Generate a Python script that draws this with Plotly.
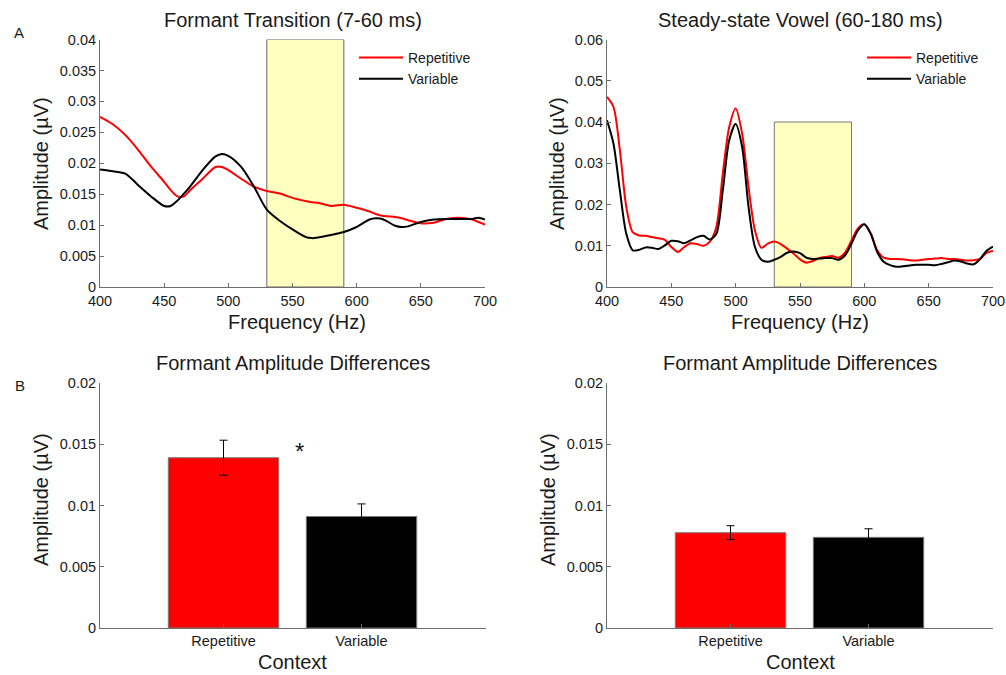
import plotly.graph_objects as go

# ---------------- data ----------------
freq_tr = [400, 410, 420, 430, 440, 450, 455, 460, 465, 470, 480, 490, 495, 500, 510, 520, 530,
           540, 550, 560, 565, 570, 580, 590, 600, 610, 615, 620, 630, 635, 640, 650, 660, 670,
           680, 690, 695, 700]
rep_tr = [0.0275, 0.0263, 0.0245, 0.0221, 0.0194, 0.0170, 0.0157, 0.0147, 0.0146, 0.0156, 0.0175,
          0.0194, 0.0194, 0.0189, 0.0175, 0.0162, 0.0155, 0.0151, 0.0144, 0.0139, 0.0137, 0.0136,
          0.0131, 0.0133, 0.0128, 0.0122, 0.0118, 0.0115, 0.0113, 0.0111, 0.0108, 0.0103, 0.0104,
          0.0110, 0.0112, 0.0109, 0.0105, 0.0101]
var_tr = [0.0190, 0.0187, 0.0183, 0.0164, 0.0146, 0.0131, 0.0131, 0.0139, 0.0150, 0.0162, 0.0189,
          0.0211, 0.0215, 0.0212, 0.0194, 0.0162, 0.0125, 0.0107, 0.0093, 0.0081, 0.0079, 0.0080,
          0.0084, 0.0089, 0.0097, 0.0109, 0.0111, 0.0110, 0.0099, 0.0097, 0.0098, 0.0105, 0.0109,
          0.0110, 0.0110, 0.0110, 0.0112, 0.0109]

freq_ss = [400, 405, 410, 415, 420, 425, 430, 435, 440, 445, 450, 455, 460, 465, 470, 475, 480,
           485, 490, 495, 500, 505, 510, 515, 520, 525, 530, 535, 540, 545, 550, 555, 560, 565,
           570, 575, 580, 585, 590, 595, 600, 605, 610, 615, 620, 625, 630, 635, 640, 645, 650,
           655, 660, 665, 670, 675, 680, 685, 690, 695, 700]
rep_ss = [0.0461, 0.0437, 0.0332, 0.0194, 0.0133, 0.0125, 0.0124, 0.0121, 0.0118, 0.0114, 0.0097,
          0.0085, 0.0097, 0.0106, 0.0104, 0.0100, 0.0110, 0.0146, 0.0275, 0.0388, 0.0433, 0.0372,
          0.0243, 0.0137, 0.0095, 0.0105, 0.0110, 0.0104, 0.0093, 0.0081, 0.0067, 0.0059, 0.0063,
          0.0070, 0.0073, 0.0075, 0.0071, 0.0083, 0.0113, 0.0142, 0.0152, 0.0129, 0.0089, 0.0071,
          0.0068, 0.0068, 0.0067, 0.0065, 0.0064, 0.0066, 0.0068, 0.0069, 0.0070, 0.0068, 0.0068,
          0.0066, 0.0064, 0.0065, 0.0068, 0.0083, 0.0087]
var_ss = [0.0404, 0.0348, 0.0234, 0.0129, 0.0089, 0.0090, 0.0096, 0.0095, 0.0092, 0.0101, 0.0112,
          0.0111, 0.0106, 0.0113, 0.0121, 0.0124, 0.0115, 0.0129, 0.0234, 0.0356, 0.0395, 0.0340,
          0.0194, 0.0097, 0.0066, 0.0061, 0.0066, 0.0073, 0.0083, 0.0086, 0.0082, 0.0071, 0.0068,
          0.0069, 0.0070, 0.0070, 0.0066, 0.0077, 0.0105, 0.0137, 0.0152, 0.0129, 0.0085, 0.0061,
          0.0053, 0.0049, 0.0050, 0.0052, 0.0054, 0.0054, 0.0054, 0.0053, 0.0056, 0.0060, 0.0064,
          0.0062, 0.0057, 0.0055, 0.0068, 0.0088, 0.0098]

window_hz = [530, 590]
window_top = [0.04, 0.04]

contexts = ["Repetitive", "Variable"]
diff_tr = [0.0139, 0.0091]
err_tr = [0.00143, 0.00103]
diff_ss = [0.00778, 0.00740]
err_ss = [0.00057, 0.00070]

freq_ticks = [400, 450, 500, 550, 600, 650, 700]
y_ticks_tr = [0, 0.005, 0.01, 0.015, 0.02, 0.025, 0.03, 0.035, 0.04]
y_ticklabels_tr = ["0", "0.005", "0.01", "0.015", "0.02", "0.025", "0.03", "0.035", "0.04"]
y_ticks_ss = [0, 0.01, 0.02, 0.03, 0.04, 0.05, 0.06]
y_ticklabels_ss = ["0", "0.01", "0.02", "0.03", "0.04", "0.05", "0.06"]
y_ticks_bar = [0, 0.005, 0.01, 0.015, 0.02]
y_ticklabels_bar = ["0", "0.005", "0.01", "0.015", "0.02"]

# ---------------- style ----------------
FONT = "Liberation Sans, Arial, sans-serif"
RED = "#ff0000"
BLACK = "#000000"
AXC = "#6e6e6e"
TXT = "#1a1a1a"
W, H = 1006, 675


def px_x(p):
    return p / W


def px_y(p):
    return 1 - p / H


fig = go.Figure()

# top-left lines
fig.add_trace(go.Scatter(x=freq_tr, y=rep_tr, mode="lines", name="Repetitive",
                         line=dict(color=RED, width=2, shape="spline", smoothing=0.8),
                         xaxis="x", yaxis="y", legend="legend"))
fig.add_trace(go.Scatter(x=freq_tr, y=var_tr, mode="lines", name="Variable",
                         line=dict(color=BLACK, width=2, shape="spline", smoothing=0.8),
                         xaxis="x", yaxis="y", legend="legend"))
# top-right lines
fig.add_trace(go.Scatter(x=freq_ss, y=rep_ss, mode="lines", name="Repetitive",
                         line=dict(color=RED, width=2, shape="spline", smoothing=0.8),
                         xaxis="x2", yaxis="y2", legend="legend2"))
fig.add_trace(go.Scatter(x=freq_ss, y=var_ss, mode="lines", name="Variable",
                         line=dict(color=BLACK, width=2, shape="spline", smoothing=0.8),
                         xaxis="x2", yaxis="y2", legend="legend2"))

# bars
for xa, ya, vals, errs in [("x3", "y3", diff_tr, err_tr), ("x4", "y4", diff_ss, err_ss)]:
    fig.add_trace(go.Bar(x=contexts, y=vals, width=0.8, showlegend=False,
                         marker=dict(color=[RED, BLACK], line=dict(color="#7a7a7a", width=1)),
                         error_y=dict(type="data", array=errs, color="#000000",
                                      thickness=1, width=4),
                         xaxis=xa, yaxis=ya))

# shaded analysis windows
fig.add_shape(type="rect", xref="x", yref="y", x0=window_hz[0], x1=window_hz[1],
              y0=0, y1=window_top[0], fillcolor="#ffffc0",
              line=dict(color="#666666", width=1), layer="below")
fig.add_shape(type="rect", xref="x2", yref="y2", x0=window_hz[0], x1=window_hz[1],
              y0=0, y1=window_top[1], fillcolor="#ffffc0",
              line=dict(color="#777777", width=1), layer="below")

tickfont = dict(family=FONT, size=14.5, color=TXT)
common_axis = dict(showline=True, linecolor=AXC, linewidth=1, ticks="inside", ticklen=4,
                   tickcolor=AXC, showgrid=False, zeroline=False, tickfont=tickfont,
                   mirror=False, automargin=False)

top_y = [px_y(287), px_y(39.5)]
bot_y = [px_y(628), px_y(383)]

fig.update_layout(
    width=W, height=H,
    margin=dict(l=0, r=0, t=0, b=0),
    paper_bgcolor="white", plot_bgcolor="white",
    font=dict(family=FONT, color=TXT),
    xaxis=dict(domain=[px_x(100), px_x(485)], range=[400, 700], tickvals=freq_ticks,
               anchor="y", ticklabelstandoff=1, **common_axis),
    yaxis=dict(domain=top_y, range=[0, 0.04], tickvals=y_ticks_tr, ticktext=y_ticklabels_tr,
               anchor="x", **common_axis),
    xaxis2=dict(domain=[px_x(607), px_x(993)], range=[400, 700], tickvals=freq_ticks,
                anchor="y2", ticklabelstandoff=1, **common_axis),
    yaxis2=dict(domain=top_y, range=[0, 0.06], tickvals=y_ticks_ss, ticktext=y_ticklabels_ss,
                anchor="x2", **common_axis),
    xaxis3=dict(domain=[px_x(100), px_x(486)], range=[-0.895, 1.902], type="category",
                anchor="y3", **common_axis),
    yaxis3=dict(domain=bot_y, range=[0, 0.02], tickvals=y_ticks_bar, ticktext=y_ticklabels_bar,
                anchor="x3", **common_axis),
    xaxis4=dict(domain=[px_x(607), px_x(993)], range=[-0.895, 1.902], type="category",
                anchor="y4", **common_axis),
    yaxis4=dict(domain=bot_y, range=[0, 0.02], tickvals=y_ticks_bar, ticktext=y_ticklabels_bar,
                anchor="x4", **common_axis),
    legend=dict(x=px_x(354), y=px_y(42), xanchor="left", yanchor="top",
                bgcolor="rgba(0,0,0,0)", font=dict(family=FONT, size=14, color=TXT),
                itemwidth=44, tracegroupgap=0),
    legend2=dict(x=px_x(862), y=px_y(42), xanchor="left", yanchor="top",
                 bgcolor="rgba(0,0,0,0)", font=dict(family=FONT, size=14, color=TXT),
                 itemwidth=44, tracegroupgap=0),
    bargap=0.2,
)

ann = []


def text(x, y, s, size, angle=0, xanchor="center"):
    ann.append(dict(x=px_x(x), y=px_y(y), xref="paper", yref="paper", text=s, showarrow=False,
                    xanchor=xanchor, yanchor="middle", textangle=angle,
                    font=dict(family=FONT, size=size, color=TXT)))


text(292.5, 20, "Formant Transition (7-60 ms)", 20)
text(800, 20, "Steady-state Vowel (60-180 ms)", 20)
text(292.5, 363, "Formant Amplitude Differences", 20)
text(800, 363, "Formant Amplitude Differences", 20)
text(297, 322, "Frequency (Hz)", 20)
text(800, 322, "Frequency (Hz)", 20)
text(292, 662, "Context", 20)
text(800, 662, "Context", 20)
text(41, 164, "Amplitude (µV)", 20, angle=-90)
text(557, 164, "Amplitude (µV)", 20, angle=-90)
text(41, 500, "Amplitude (µV)", 20, angle=-90)
text(548, 500, "Amplitude (µV)", 20, angle=-90)
text(19, 33, "A", 15)
text(20, 385, "B", 15)
text(299, 452, "*", 24)

fig.update_layout(annotations=ann)

fig.write_html("out.html")
